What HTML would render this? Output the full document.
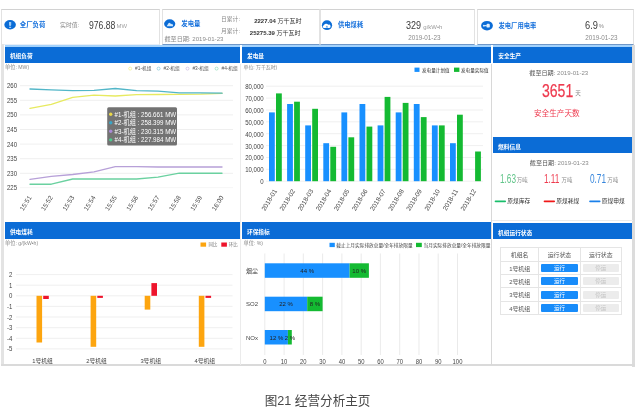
<!DOCTYPE html>
<html lang="zh-CN"><head><meta charset="utf-8"><title>经营分析主页</title>
<style>
html,body{margin:0;padding:0;background:#fff;}
body{filter:blur(0.4px);width:640px;height:408px;overflow:hidden;position:relative;font-family:"Liberation Sans","Noto Sans CJK SC",sans-serif;color:#444;}
.card{position:absolute;top:9px;height:36px;background:#fff;border:1px solid #e2e2e2;border-top-color:#d2d2d2;box-sizing:border-box;}
.t{position:absolute;white-space:nowrap;line-height:1;}
.blue{color:#1570dc;font-weight:bold;}
.gray{color:#8a8a8a;}
.hd{position:absolute;background:#0b6cd6;box-sizing:border-box;color:#fff;font-weight:bold;font-size:5.7px;}
.hd span{position:absolute;left:5.2px;top:50%;margin-top:1.4px;transform:translateY(-50%);line-height:1;white-space:nowrap;}
svg{position:absolute;left:0;top:0;overflow:visible;}
svg text{font-family:"Liberation Sans","Noto Sans CJK SC",sans-serif;}
.td{position:absolute;box-sizing:border-box;border-right:1px solid #e5e5e5;border-bottom:1px solid #e5e5e5;text-align:center;font-size:5.9px;color:#555;}
.btn{position:absolute;left:2.1px;right:2.1px;top:2.3px;bottom:2.1px;border-radius:1px;line-height:9.6px;font-size:5.5px;}
.on{background:#188cfa;color:#fff;}
.off{background:#ececec;color:#c4c4c4;}
</style></head><body>

<div class="card" style="left:1px;width:159px;border-bottom-color:#e6eef8"></div>
<div class="card" style="left:161.5px;width:158px;border-bottom-color:#6f97c8"></div>
<div class="card" style="left:320px;width:155px;border-bottom-color:#6f97c8"></div>
<div class="card" style="left:477px;width:157px;border-bottom-color:#6f97c8"></div>
<svg width="640" height="408" viewBox="0 0 640 408"><ellipse cx="10.1" cy="24.8" rx="5.8" ry="4.7" fill="#0b6cd6"/><path d="M9.0 21.900000000000002h2.2v3.1l-0.6 1h-1l-0.6-1z M9.1 26.7h2v1.2h-2z" fill="#9ccbf7"/></svg>
<div class="t blue" style="left:19.8px;top:25px;font-size:6.4px;transform:translate(0,-50%);">全厂负荷</div>
<div class="t gray" style="left:60px;top:26.2px;font-size:5.9px;transform:translate(0,-50%);">实时值:</div>
<div class="t" style="left:88.7px;top:24.8px;font-size:11.6px;color:#3c3c3c;transform:translate(0,-50%) scaleX(0.745);transform-origin:0 50%;">976.88</div>
<div class="t " style="left:116.6px;top:27px;font-size:5.9px;transform:translate(0,-50%);color:#a2a2a2">MW</div>
<svg width="640" height="408" viewBox="0 0 640 408"><ellipse cx="169.7" cy="23.8" rx="5.6" ry="4.45" fill="#0b6cd6"/><path d="M166.7 26.2l1.6-2.6a1.3 1.3 0 0 1 2-0.3l0.9 0.9a1 1 0 0 1 1.4 0l0.6 2z" fill="#cfe8fd"/></svg>
<div class="t blue" style="left:181.3px;top:24.3px;font-size:6.4px;transform:translate(0,-50%);">发电量</div>
<div class="t gray" style="left:164.5px;top:38.6px;font-size:6.1px;transform:translate(0,-50%);">截至日期: 2019-01-23</div>
<div class="t gray" style="left:221px;top:20px;font-size:5.8px;transform:translate(0,-50%);">日累计:</div>
<div class="t gray" style="left:221px;top:32.2px;font-size:5.8px;transform:translate(0,-50%);">月累计:</div>
<div class="t " style="left:301.5px;top:20.6px;font-size:6px;transform:translate(-100%,-50%);color:#333"><b>2227.04</b> 万千瓦时</div>
<div class="t " style="left:300.5px;top:33px;font-size:6px;transform:translate(-100%,-50%);color:#333"><b>25275.39</b> 万千瓦时</div>
<svg width="640" height="408" viewBox="0 0 640 408"><ellipse cx="327" cy="25.2" rx="5.1" ry="4.9" fill="#0b6cd6"/><path d="M324.1 28.099999999999998a1.45 1.45 0 0 1 -0.2-2.85a2.3 1.9 0 0 1 4.3-0.55a1.75 1.75 0 0 1 1.2 3.4z" fill="#fff"/><path d="M325.6 27.4l1.3-2l1.3 2z" fill="#4f9aea"/></svg>
<div class="t blue" style="left:338px;top:25.3px;font-size:6.3px;transform:translate(0,-50%);">供电煤耗</div>
<div class="t" style="left:406.3px;top:25.1px;font-size:11.6px;color:#3c3c3c;transform:translate(0,-50%) scaleX(0.78);transform-origin:0 50%;">329</div>
<div class="t " style="left:423.3px;top:27px;font-size:6px;transform:translate(0,-50%);color:#999">g/kW•h</div>
<div class="t gray" style="left:408.2px;top:38.4px;font-size:6.3px;transform:translate(0,-50%);">2019-01-23</div>
<svg width="640" height="408" viewBox="0 0 640 408"><ellipse cx="487" cy="25.7" rx="5.9" ry="4.8" fill="#0b6cd6"/><rect x="486.5" y="23.8" width="3.3" height="3.8" rx="1.2" fill="#e4f1fe"/><rect x="483.3" y="25.099999999999998" width="3.6" height="1.2" rx="0.5" fill="#cfe8fd"/><circle cx="483.8" cy="25.7" r="0.9" fill="#cfe8fd"/></svg>
<div class="t blue" style="left:498.5px;top:25.8px;font-size:6.3px;transform:translate(0,-50%);">发电厂用电率</div>
<div class="t" style="left:585px;top:24.7px;font-size:11.6px;color:#3c3c3c;transform:translate(0,-50%) scaleX(0.8);transform-origin:0 50%;">6.9</div>
<div class="t gray" style="left:598.7px;top:26.8px;font-size:5.8px;transform:translate(0,-50%);">%</div>
<div class="t gray" style="left:585.2px;top:38px;font-size:6.3px;transform:translate(0,-50%);">2019-01-23</div>
<div style="position:absolute;left:1px;top:44px;width:2.5px;height:322px;background:#e3e3e3"></div>
<div style="position:absolute;left:632.4px;top:44.5px;width:2.2px;height:322px;background:#dcdcdc"></div>
<div style="position:absolute;left:1px;top:364.4px;width:633.6px;height:2.1px;background:#dadada"></div>
<div style="position:absolute;left:240.3px;top:64px;width:0.8px;height:301px;background:#ebebeb"></div>
<div style="position:absolute;left:491px;top:64px;width:1px;height:301px;background:#d8d8d8"></div>
<div style="position:absolute;left:492px;top:220px;width:141px;height:0.7px;background:#ececec"></div>
<div class="hd" style="left:4.7px;top:44.5px;width:235px;height:18.3px;border-top:2.8px solid #a3d2fc;"><span style="margin-top:2.1px">机组负荷</span></div>
<div class="hd" style="left:241.8px;top:44.5px;width:248.8px;height:18.6px;border-top:2.8px solid #a3d2fc;"><span style="margin-top:2.4px">发电量</span></div>
<div class="hd" style="left:493.1px;top:44.5px;width:139.1px;height:18.9px;border-top:2.8px solid #a3d2fc;"><span style="margin-top:2.5px">安全生产</span></div>
<div class="hd" style="left:492.9px;top:137px;width:139.3px;height:16.2px;"><span style="margin-top:2.6px">燃料信息</span></div>
<div class="hd" style="left:4.7px;top:222.3px;width:235px;height:16.7px;"><span style="margin-top:2.6px">供电煤耗</span></div>
<div class="hd" style="left:241.8px;top:222.3px;width:248.8px;height:16.7px;"><span style="margin-top:2.6px">环保指标</span></div>
<div class="hd" style="left:492.9px;top:223.2px;width:139.3px;height:16.3px;"><span style="margin-top:2.3px">机组运行状态</span></div>
<svg width="640" height="408" viewBox="0 0 640 408">
<line x1="20" x2="233" y1="85.7" y2="85.7" stroke="#e4e4e4" stroke-width="0.6"/>
<text transform="translate(17,88.2) scale(0.84,1)" text-anchor="end" font-size="7.2" fill="#444">260</text>
<line x1="20" x2="233" y1="100.3" y2="100.3" stroke="#e4e4e4" stroke-width="0.6"/>
<text transform="translate(17,102.8) scale(0.84,1)" text-anchor="end" font-size="7.2" fill="#444">255</text>
<line x1="20" x2="233" y1="114.9" y2="114.9" stroke="#e4e4e4" stroke-width="0.6"/>
<text transform="translate(17,117.4) scale(0.84,1)" text-anchor="end" font-size="7.2" fill="#444">250</text>
<line x1="20" x2="233" y1="129.5" y2="129.5" stroke="#e4e4e4" stroke-width="0.6"/>
<text transform="translate(17,132.0) scale(0.84,1)" text-anchor="end" font-size="7.2" fill="#444">245</text>
<line x1="20" x2="233" y1="144.1" y2="144.1" stroke="#e4e4e4" stroke-width="0.6"/>
<text transform="translate(17,146.6) scale(0.84,1)" text-anchor="end" font-size="7.2" fill="#444">240</text>
<line x1="20" x2="233" y1="158.7" y2="158.7" stroke="#e4e4e4" stroke-width="0.6"/>
<text transform="translate(17,161.2) scale(0.84,1)" text-anchor="end" font-size="7.2" fill="#444">235</text>
<line x1="20" x2="233" y1="173.3" y2="173.3" stroke="#e4e4e4" stroke-width="0.6"/>
<text transform="translate(17,175.8) scale(0.84,1)" text-anchor="end" font-size="7.2" fill="#444">230</text>
<line x1="20" x2="233" y1="187.6" y2="187.6" stroke="#f0f0f0" stroke-width="0.6"/>
<text transform="translate(17,190.1) scale(0.84,1)" text-anchor="end" font-size="7.2" fill="#444">225</text>
<polyline points="30.0,108.4 51.3,104.4 72.7,97.3 94.0,95.1 115.3,96 136.6,94.7 158.0,94.5 179.3,94.3 200.6,94.2 222.0,93.3" fill="none" stroke="#e7ea60" stroke-width="1.35" stroke-linejoin="round" stroke-linecap="round"/>
<polyline points="30.0,89 51.3,89.8 72.7,90.7 94.0,90.3 115.3,88.5 136.6,90.7 158.0,91.2 179.3,92.9 200.6,92.9 222.0,93.2" fill="none" stroke="#52b6c8" stroke-width="1.35" stroke-linejoin="round" stroke-linecap="round"/>
<polyline points="30.0,179.4 51.3,176.3 72.7,174.5 94.0,171.9 115.3,166.6 136.6,166.6 158.0,167 179.3,167 200.6,167 222.0,167" fill="none" stroke="#b7a0d8" stroke-width="1.35" stroke-linejoin="round" stroke-linecap="round"/>
<polyline points="30.0,184.2 51.3,184.2 72.7,179 94.0,179 115.3,179 136.6,179 158.0,177.2 179.3,173.2 200.6,173.2 222.0,173.2" fill="none" stroke="#6bd1a0" stroke-width="1.35" stroke-linejoin="round" stroke-linecap="round"/>
<text transform="translate(31.9,197.4) rotate(-58)" text-anchor="end" font-size="6.5" fill="#444">15:51</text>
<text transform="translate(53.2,197.4) rotate(-58)" text-anchor="end" font-size="6.5" fill="#444">15:52</text>
<text transform="translate(74.6,197.4) rotate(-58)" text-anchor="end" font-size="6.5" fill="#444">15:53</text>
<text transform="translate(95.9,197.4) rotate(-58)" text-anchor="end" font-size="6.5" fill="#444">15:54</text>
<text transform="translate(117.2,197.4) rotate(-58)" text-anchor="end" font-size="6.5" fill="#444">15:55</text>
<text transform="translate(138.5,197.4) rotate(-58)" text-anchor="end" font-size="6.5" fill="#444">15:56</text>
<text transform="translate(159.9,197.4) rotate(-58)" text-anchor="end" font-size="6.5" fill="#444">15:57</text>
<text transform="translate(181.2,197.4) rotate(-58)" text-anchor="end" font-size="6.5" fill="#444">15:58</text>
<text transform="translate(202.5,197.4) rotate(-58)" text-anchor="end" font-size="6.5" fill="#444">15:59</text>
<text transform="translate(223.9,197.4) rotate(-58)" text-anchor="end" font-size="6.5" fill="#444">16:00</text>
<circle cx="130.2" cy="68.6" r="1.5" fill="#fff" stroke="#e6e75c" stroke-width="0.5"/>
<text x="135.1" y="70.4" font-size="4.75" fill="#555">#1-机组</text>
<circle cx="158.6" cy="68.6" r="1.5" fill="#fff" stroke="#5ab5cf" stroke-width="0.5"/>
<text x="163.5" y="70.4" font-size="4.75" fill="#555">#2-机组</text>
<circle cx="187.5" cy="68.6" r="1.5" fill="#fff" stroke="#b7a0d8" stroke-width="0.5"/>
<text x="192.4" y="70.4" font-size="4.75" fill="#555">#3-机组</text>
<circle cx="216.6" cy="68.6" r="1.5" fill="#fff" stroke="#6bd1a0" stroke-width="0.5"/>
<text x="221.5" y="70.4" font-size="4.75" fill="#555">#4-机组</text>
<text x="5" y="69" font-size="5.2" fill="#8a8a8a">单位: MW)</text>
<rect x="107.2" y="107.3" width="69.8" height="38.3" rx="1.5" fill="#5a5a5a" fill-opacity="0.85"/>
<circle cx="110.7" cy="114.2" r="1.7" fill="#ead848"/>
<text transform="translate(114.5,116.80) scale(0.85,1)" font-size="7.3" fill="#fff">#1-机组 : 256.661 MW</text>
<circle cx="110.7" cy="122.75" r="1.7" fill="#3aa6c8"/>
<text transform="translate(114.5,125.35) scale(0.85,1)" font-size="7.3" fill="#fff">#2-机组 : 258.399 MW</text>
<circle cx="110.7" cy="131.3" r="1.7" fill="#a98ad6"/>
<text transform="translate(114.5,133.90) scale(0.85,1)" font-size="7.3" fill="#fff">#3-机组 : 230.315 MW</text>
<circle cx="110.7" cy="139.85" r="1.7" fill="#4fc98f"/>
<text transform="translate(114.5,142.45) scale(0.85,1)" font-size="7.3" fill="#fff">#4-机组 : 227.984 MW</text>
</svg>
<svg width="640" height="408" viewBox="0 0 640 408">
<line x1="266" x2="483" y1="181.2" y2="181.2" stroke="#e4e4e4" stroke-width="0.6"/>
<text transform="translate(263.6,184.1) scale(0.84,1)" text-anchor="end" font-size="7.2" fill="#444">0</text>
<line x1="266" x2="483" y1="169.3" y2="169.3" stroke="#e4e4e4" stroke-width="0.6"/>
<text transform="translate(263.6,172.2) scale(0.84,1)" text-anchor="end" font-size="7.2" fill="#444">10,000</text>
<line x1="266" x2="483" y1="157.5" y2="157.5" stroke="#e4e4e4" stroke-width="0.6"/>
<text transform="translate(263.6,160.4) scale(0.84,1)" text-anchor="end" font-size="7.2" fill="#444">20,000</text>
<line x1="266" x2="483" y1="145.6" y2="145.6" stroke="#e4e4e4" stroke-width="0.6"/>
<text transform="translate(263.6,148.5) scale(0.84,1)" text-anchor="end" font-size="7.2" fill="#444">30,000</text>
<line x1="266" x2="483" y1="133.7" y2="133.7" stroke="#e4e4e4" stroke-width="0.6"/>
<text transform="translate(263.6,136.6) scale(0.84,1)" text-anchor="end" font-size="7.2" fill="#444">40,000</text>
<line x1="266" x2="483" y1="121.8" y2="121.8" stroke="#e4e4e4" stroke-width="0.6"/>
<text transform="translate(263.6,124.8) scale(0.84,1)" text-anchor="end" font-size="7.2" fill="#444">50,000</text>
<line x1="266" x2="483" y1="110.0" y2="110.0" stroke="#e4e4e4" stroke-width="0.6"/>
<text transform="translate(263.6,112.9) scale(0.84,1)" text-anchor="end" font-size="7.2" fill="#444">60,000</text>
<line x1="266" x2="483" y1="98.1" y2="98.1" stroke="#e4e4e4" stroke-width="0.6"/>
<text transform="translate(263.6,101.0) scale(0.84,1)" text-anchor="end" font-size="7.2" fill="#444">70,000</text>
<line x1="266" x2="483" y1="86.2" y2="86.2" stroke="#e4e4e4" stroke-width="0.6"/>
<text transform="translate(263.6,89.1) scale(0.84,1)" text-anchor="end" font-size="7.2" fill="#444">80,000</text>
<rect x="269.0" y="112.4" width="5.8" height="68.8" fill="#1890ff"/>
<rect x="276.0" y="93.4" width="5.8" height="87.8" fill="#14ba32"/>
<text transform="translate(277.3,190.9) rotate(-59)" text-anchor="end" font-size="6.5" fill="#444">2018-01</text>
<rect x="287.1" y="104.0" width="5.8" height="77.2" fill="#1890ff"/>
<rect x="294.1" y="101.7" width="5.8" height="79.5" fill="#14ba32"/>
<text transform="translate(295.4,190.9) rotate(-59)" text-anchor="end" font-size="6.5" fill="#444">2018-02</text>
<rect x="305.2" y="125.4" width="5.8" height="55.8" fill="#1890ff"/>
<rect x="312.2" y="108.8" width="5.8" height="72.4" fill="#14ba32"/>
<text transform="translate(313.5,190.9) rotate(-59)" text-anchor="end" font-size="6.5" fill="#444">2018-03</text>
<rect x="323.3" y="143.2" width="5.8" height="38.0" fill="#1890ff"/>
<rect x="330.3" y="146.8" width="5.8" height="34.4" fill="#14ba32"/>
<text transform="translate(331.6,190.9) rotate(-59)" text-anchor="end" font-size="6.5" fill="#444">2018-04</text>
<rect x="341.4" y="112.4" width="5.8" height="68.8" fill="#1890ff"/>
<rect x="348.4" y="137.3" width="5.8" height="43.9" fill="#14ba32"/>
<text transform="translate(349.7,190.9) rotate(-59)" text-anchor="end" font-size="6.5" fill="#444">2018-05</text>
<rect x="359.5" y="104.0" width="5.8" height="77.2" fill="#1890ff"/>
<rect x="366.5" y="126.6" width="5.8" height="54.6" fill="#14ba32"/>
<text transform="translate(367.8,190.9) rotate(-59)" text-anchor="end" font-size="6.5" fill="#444">2018-06</text>
<rect x="377.6" y="125.4" width="5.8" height="55.8" fill="#1890ff"/>
<rect x="384.6" y="96.9" width="5.8" height="84.3" fill="#14ba32"/>
<text transform="translate(385.9,190.9) rotate(-59)" text-anchor="end" font-size="6.5" fill="#444">2018-07</text>
<rect x="395.7" y="112.4" width="5.8" height="68.8" fill="#1890ff"/>
<rect x="402.7" y="102.9" width="5.8" height="78.3" fill="#14ba32"/>
<text transform="translate(404.0,190.9) rotate(-59)" text-anchor="end" font-size="6.5" fill="#444">2018-08</text>
<rect x="413.8" y="104.0" width="5.8" height="77.2" fill="#1890ff"/>
<rect x="420.8" y="117.1" width="5.8" height="64.1" fill="#14ba32"/>
<text transform="translate(422.1,190.9) rotate(-59)" text-anchor="end" font-size="6.5" fill="#444">2018-09</text>
<rect x="431.9" y="125.4" width="5.8" height="55.8" fill="#1890ff"/>
<rect x="438.9" y="125.4" width="5.8" height="55.8" fill="#14ba32"/>
<text transform="translate(440.2,190.9) rotate(-59)" text-anchor="end" font-size="6.5" fill="#444">2018-10</text>
<rect x="450.0" y="143.2" width="5.8" height="38.0" fill="#1890ff"/>
<rect x="457.0" y="114.7" width="5.8" height="66.5" fill="#14ba32"/>
<text transform="translate(458.3,190.9) rotate(-59)" text-anchor="end" font-size="6.5" fill="#444">2018-11</text>
<rect x="475.1" y="151.5" width="5.8" height="29.7" fill="#14ba32"/>
<text transform="translate(476.4,190.9) rotate(-59)" text-anchor="end" font-size="6.5" fill="#444">2018-12</text>
<text x="243.5" y="69" font-size="4.9" fill="#8a8a8a">单位: 万千瓦时)</text>
<rect x="414.5" y="67.6" width="5" height="4.3" fill="#1890ff"/><text x="422" y="71.6" font-size="4.6" fill="#333">发电量计划值</text>
<rect x="454" y="67.6" width="5.4" height="4.3" fill="#14ba32"/><text x="461" y="71.6" font-size="4.6" fill="#333">发电量实际值</text>
</svg>
<div class="t gray" style="left:558.8px;top:73.3px;font-size:6.1px;transform:translate(-50%,-50%);"><span style="color:#555">截至日期:</span> 2019-01-23</div>
<div class="t" style="left:542px;top:91px;font-size:18.6px;color:#ee3a4e;transform:translate(0,-50%) scaleX(0.755);transform-origin:0 50%;-webkit-text-stroke:0.25px #ee3a4e;">3651</div>
<div class="t gray" style="left:575.3px;top:94px;font-size:5.6px;transform:translate(0,-50%);">天</div>
<div class="t " style="left:556.8px;top:114.2px;font-size:7.6px;transform:translate(-50%,-50%);color:#ee3a4e">安全生产天数</div>
<div class="t gray" style="left:559.3px;top:162.5px;font-size:6.1px;transform:translate(-50%,-50%);"><span style="color:#555">截至日期:</span> 2019-01-23</div>
<div class="t" style="left:499.5px;top:178.7px;font-size:12.3px;color:#62c58a;transform:translate(0,-50%) scaleX(0.67);transform-origin:0 50%;">1.63</div>
<div class="t gray" style="left:516.8px;top:181px;font-size:5.4px;transform:translate(0,-50%);">万吨</div>
<div class="t" style="left:544.3px;top:178.7px;font-size:12.3px;color:#ee3a4e;transform:translate(0,-50%) scaleX(0.67);transform-origin:0 50%;">1.11</div>
<div class="t gray" style="left:561.5999999999999px;top:181px;font-size:5.4px;transform:translate(0,-50%);">万吨</div>
<div class="t" style="left:590px;top:178.7px;font-size:12.3px;color:#3585dc;transform:translate(0,-50%) scaleX(0.67);transform-origin:0 50%;">0.71</div>
<div class="t gray" style="left:607.3px;top:181px;font-size:5.4px;transform:translate(0,-50%);">万吨</div>
<svg width="640" height="408" viewBox="0 0 640 408"><line x1="495.5" x2="505.2" y1="201.3" y2="201.3" stroke="#19be6b" stroke-width="1.7" stroke-linecap="round"/><text x="507.2" y="203.4" font-size="5.75" fill="#333">原煤库存</text><line x1="544.5" x2="554.2" y1="201.3" y2="201.3" stroke="#f01818" stroke-width="1.7" stroke-linecap="round"/><text x="556.2" y="203.4" font-size="5.75" fill="#333">原煤耗煤</text><line x1="590" x2="599.7" y1="201.3" y2="201.3" stroke="#1a80ea" stroke-width="1.7" stroke-linecap="round"/><text x="601.7" y="203.4" font-size="5.75" fill="#333">原煤申煤</text></svg>
<svg width="640" height="408" viewBox="0 0 640 408">
<line x1="16" x2="232.5" y1="274.6" y2="274.6" stroke="#e4e4e4" stroke-width="0.6"/>
<text transform="translate(12.4,277.1) scale(0.84,1)" text-anchor="end" font-size="7.2" fill="#444">2</text>
<line x1="16" x2="232.5" y1="285.2" y2="285.2" stroke="#e4e4e4" stroke-width="0.6"/>
<text transform="translate(12.4,287.7) scale(0.84,1)" text-anchor="end" font-size="7.2" fill="#444">1</text>
<line x1="16" x2="232.5" y1="295.8" y2="295.8" stroke="#e4e4e4" stroke-width="0.6"/>
<text transform="translate(12.4,298.3) scale(0.84,1)" text-anchor="end" font-size="7.2" fill="#444">0</text>
<line x1="16" x2="232.5" y1="306.4" y2="306.4" stroke="#e4e4e4" stroke-width="0.6"/>
<text transform="translate(12.4,308.9) scale(0.84,1)" text-anchor="end" font-size="7.2" fill="#444">-1</text>
<line x1="16" x2="232.5" y1="317.0" y2="317.0" stroke="#e4e4e4" stroke-width="0.6"/>
<text transform="translate(12.4,319.5) scale(0.84,1)" text-anchor="end" font-size="7.2" fill="#444">-2</text>
<line x1="16" x2="232.5" y1="327.7" y2="327.7" stroke="#e4e4e4" stroke-width="0.6"/>
<text transform="translate(12.4,330.2) scale(0.84,1)" text-anchor="end" font-size="7.2" fill="#444">-3</text>
<line x1="16" x2="232.5" y1="338.3" y2="338.3" stroke="#e4e4e4" stroke-width="0.6"/>
<text transform="translate(12.4,340.8) scale(0.84,1)" text-anchor="end" font-size="7.2" fill="#444">-4</text>
<line x1="16" x2="232.5" y1="348.9" y2="348.9" stroke="#e4e4e4" stroke-width="0.6"/>
<text transform="translate(12.4,351.4) scale(0.84,1)" text-anchor="end" font-size="7.2" fill="#444">-5</text>
<rect x="36.5" y="295.8" width="5.6" height="46.7" fill="#fda50f"/>
<rect x="43.2" y="295.8" width="5.6" height="3.2" fill="#ee142c"/>
<text x="42.5" y="363.2" text-anchor="middle" font-size="5.8" fill="#444">1号机组</text>
<rect x="90.6" y="295.8" width="5.6" height="51.0" fill="#fda50f"/>
<rect x="97.3" y="295.8" width="5.6" height="2.1" fill="#ee142c"/>
<text x="96.6" y="363.2" text-anchor="middle" font-size="5.8" fill="#444">2号机组</text>
<rect x="144.7" y="295.8" width="5.6" height="13.8" fill="#fda50f"/>
<rect x="151.4" y="283.1" width="5.6" height="12.7" fill="#ee142c"/>
<text x="150.7" y="363.2" text-anchor="middle" font-size="5.8" fill="#444">3号机组</text>
<rect x="198.8" y="295.8" width="5.6" height="51.0" fill="#fda50f"/>
<rect x="205.5" y="295.8" width="5.6" height="2.1" fill="#ee142c"/>
<text x="204.8" y="363.2" text-anchor="middle" font-size="5.8" fill="#444">4号机组</text>
<text x="5" y="245" font-size="5.2" fill="#8a8a8a">单位: g/(kW•h)</text>
<rect x="200.5" y="242.5" width="5.6" height="4.2" fill="#fda50f"/><text x="208.5" y="246.4" font-size="4.4" fill="#777">同比</text>
<rect x="221.3" y="242.5" width="5.6" height="4.2" fill="#ee142c"/><text x="228.8" y="246.4" font-size="4.4" fill="#777">环比</text>
</svg>
<svg width="640" height="408" viewBox="0 0 640 408">
<line x1="264.8" x2="264.8" y1="253.5" y2="355" stroke="#dcdcdc" stroke-width="0.6"/>
<text transform="translate(264.8,363.6) scale(0.84,1)" text-anchor="middle" font-size="7" fill="#444">0</text>
<line x1="284.1" x2="284.1" y1="253.5" y2="355" stroke="#dcdcdc" stroke-width="0.6"/>
<text transform="translate(284.1,363.6) scale(0.84,1)" text-anchor="middle" font-size="7" fill="#444">10</text>
<line x1="303.3" x2="303.3" y1="253.5" y2="355" stroke="#dcdcdc" stroke-width="0.6"/>
<text transform="translate(303.3,363.6) scale(0.84,1)" text-anchor="middle" font-size="7" fill="#444">20</text>
<line x1="322.6" x2="322.6" y1="253.5" y2="355" stroke="#dcdcdc" stroke-width="0.6"/>
<text transform="translate(322.6,363.6) scale(0.84,1)" text-anchor="middle" font-size="7" fill="#444">30</text>
<line x1="341.9" x2="341.9" y1="253.5" y2="355" stroke="#dcdcdc" stroke-width="0.6"/>
<text transform="translate(341.9,363.6) scale(0.84,1)" text-anchor="middle" font-size="7" fill="#444">40</text>
<line x1="361.2" x2="361.2" y1="253.5" y2="355" stroke="#dcdcdc" stroke-width="0.6"/>
<text transform="translate(361.2,363.6) scale(0.84,1)" text-anchor="middle" font-size="7" fill="#444">50</text>
<line x1="380.4" x2="380.4" y1="253.5" y2="355" stroke="#dcdcdc" stroke-width="0.6"/>
<text transform="translate(380.4,363.6) scale(0.84,1)" text-anchor="middle" font-size="7" fill="#444">60</text>
<line x1="399.7" x2="399.7" y1="253.5" y2="355" stroke="#dcdcdc" stroke-width="0.6"/>
<text transform="translate(399.7,363.6) scale(0.84,1)" text-anchor="middle" font-size="7" fill="#444">70</text>
<line x1="419.0" x2="419.0" y1="253.5" y2="355" stroke="#dcdcdc" stroke-width="0.6"/>
<text transform="translate(419.0,363.6) scale(0.84,1)" text-anchor="middle" font-size="7" fill="#444">80</text>
<line x1="438.2" x2="438.2" y1="253.5" y2="355" stroke="#dcdcdc" stroke-width="0.6"/>
<text transform="translate(438.2,363.6) scale(0.84,1)" text-anchor="middle" font-size="7" fill="#444">90</text>
<line x1="457.5" x2="457.5" y1="253.5" y2="355" stroke="#dcdcdc" stroke-width="0.6"/>
<text transform="translate(457.5,363.6) scale(0.84,1)" text-anchor="middle" font-size="7" fill="#444">100</text>
<rect x="264.8" y="263.3" width="84.8" height="14.5" fill="#1890ff"/>
<rect x="349.6" y="263.3" width="19.3" height="14.5" fill="#14ba32"/>
<text x="246" y="272.8" font-size="6" fill="#444">烟尘</text>
<text x="307.2" y="272.8" text-anchor="middle" font-size="6" fill="#222">44 %</text>
<text x="359.2" y="272.8" text-anchor="middle" font-size="6" fill="#222">10 %</text>
<rect x="264.8" y="296.7" width="42.4" height="14.5" fill="#1890ff"/>
<rect x="307.2" y="296.7" width="15.4" height="14.5" fill="#14ba32"/>
<text x="246" y="306.2" font-size="6" fill="#444">SO2</text>
<text x="286.0" y="306.2" text-anchor="middle" font-size="6" fill="#222">22 %</text>
<text x="314.9" y="306.2" text-anchor="middle" font-size="6" fill="#222">8 %</text>
<rect x="264.8" y="330" width="23.1" height="14.5" fill="#1890ff"/>
<rect x="287.9" y="330" width="3.9" height="14.5" fill="#14ba32"/>
<text x="246" y="339.5" font-size="6" fill="#444">NOx</text>
<text x="276.4" y="339.5" text-anchor="middle" font-size="6" fill="#222">12 %</text>
<text x="289.9" y="339.5" text-anchor="middle" font-size="6" fill="#222">2 %</text>
<text x="243.5" y="245" font-size="5.2" fill="#8a8a8a">单位: %)</text>
<rect x="329.5" y="242.8" width="5.3" height="4.3" fill="#1890ff"/><text x="336.3" y="247" font-size="4.7" fill="#444">截止上月实际排放总量/全年排放限量</text>
<rect x="416" y="242.8" width="5.8" height="4.3" fill="#14ba32"/><text x="423.5" y="247" font-size="4.7" fill="#444">当月实际排放总量/全年排放限量</text>
</svg>
<div class="tbl" style="position:absolute;left:501.2px;top:248.3px;width:120.80000000000001px;height:66.89999999999998px;border-left:1px solid #e5e5e5;border-top:1px solid #e5e5e5;margin:-1px 0 0 -1px">
<div class="td" style="left:0.0px;top:0.0px;width:38.0px;height:13.3px;line-height:14.3px">机组名</div>
<div class="td" style="left:38.0px;top:0.0px;width:41.5px;height:13.3px;line-height:14.3px">运行状态</div>
<div class="td" style="left:79.5px;top:0.0px;width:41.3px;height:13.3px;line-height:14.3px">运行状态</div>
<div class="td" style="left:0.0px;top:13.3px;width:38.0px;height:13.4px;line-height:14.4px">1号机组</div>
<div class="td" style="left:38.0px;top:13.3px;width:41.5px;height:13.4px;line-height:14.4px"><div class="btn on">运行</div></div>
<div class="td" style="left:79.5px;top:13.3px;width:41.3px;height:13.4px;line-height:14.4px"><div class="btn off">停运</div></div>
<div class="td" style="left:0.0px;top:26.7px;width:38.0px;height:13.4px;line-height:14.4px">2号机组</div>
<div class="td" style="left:38.0px;top:26.7px;width:41.5px;height:13.4px;line-height:14.4px"><div class="btn on">运行</div></div>
<div class="td" style="left:79.5px;top:26.7px;width:41.3px;height:13.4px;line-height:14.4px"><div class="btn off">停运</div></div>
<div class="td" style="left:0.0px;top:40.1px;width:38.0px;height:13.4px;line-height:14.4px">3号机组</div>
<div class="td" style="left:38.0px;top:40.1px;width:41.5px;height:13.4px;line-height:14.4px"><div class="btn on">运行</div></div>
<div class="td" style="left:79.5px;top:40.1px;width:41.3px;height:13.4px;line-height:14.4px"><div class="btn off">停运</div></div>
<div class="td" style="left:0.0px;top:53.5px;width:38.0px;height:13.4px;line-height:14.4px">4号机组</div>
<div class="td" style="left:38.0px;top:53.5px;width:41.5px;height:13.4px;line-height:14.4px"><div class="btn on">运行</div></div>
<div class="td" style="left:79.5px;top:53.5px;width:41.3px;height:13.4px;line-height:14.4px"><div class="btn off">停运</div></div>
</div>
<div class="t " style="left:317.6px;top:401.4px;font-size:12.6px;transform:translate(-50%,-50%);color:#484848">图21 经营分析主页</div>
</body></html>
